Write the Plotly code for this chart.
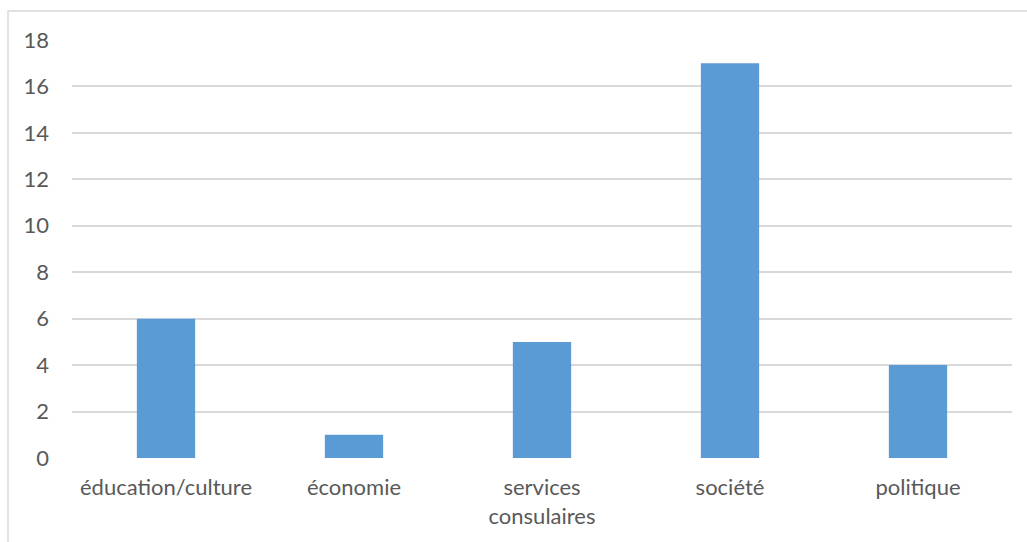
import plotly.graph_objects as go

categories = ["éducation/culture", "économie", "services<br>consulaires", "société", "politique"]
values = [6, 1, 5, 17, 4]
y_ticks = [0, 2, 4, 6, 8, 10, 12, 14, 16, 18]

BAR = "#5B9BD5"
TEXT = "#595959"
GRID = "#D9D9D9"
FONT = "Lato"
FS = 22

W, H = 1027, 542
L, R, T, B = 72, 15, 40, 84
pw, ph = W - L - R, H - T - B

fig = go.Figure(
    go.Bar(x=categories, y=values, marker=dict(color=BAR, line=dict(width=0)))
)

# outer chart frame (top-left corner visible, rest runs off the page)
fx0 = (8 - L) / pw
fy1 = (H - B - 11) / ph
fig.add_shape(
    type="rect", xref="paper", yref="paper",
    x0=fx0, x1=1.2, y0=-0.5, y1=fy1,
    line=dict(color=GRID, width=1.5), fillcolor="rgba(0,0,0,0)", layer="below",
)

fig.update_layout(
    width=W, height=H,
    margin=dict(l=L, r=R, t=T, b=B, pad=0),
    paper_bgcolor="white", plot_bgcolor="white",
    bargap=0.69,
    showlegend=False,
    font=dict(family=FONT, color=TEXT, size=FS),
    xaxis=dict(
        showgrid=False, zeroline=False, showline=False, ticks="",
        tickfont=dict(size=FS, color=TEXT, family=FONT),
        ticklabelstandoff=14,
    ),
    yaxis=dict(
        range=[0, 18], tickvals=y_ticks,
        showgrid=True, gridcolor=GRID, gridwidth=1.5,
        zeroline=False, showline=False, ticks="",
        tickfont=dict(size=FS, color=TEXT, family=FONT),
        ticklabelstandoff=22,
    ),
)

fig.write_html("out.html")
